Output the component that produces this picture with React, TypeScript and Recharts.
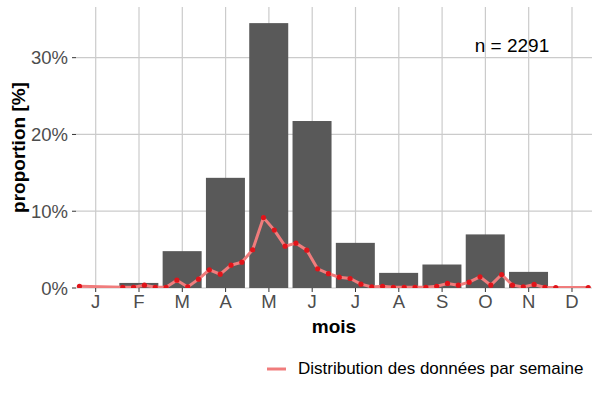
import React from 'react';
import {
  ComposedChart, Bar, Line, XAxis, YAxis, CartesianGrid, Legend, ReferenceDot,
} from 'recharts';

const monthLabels = ['J', 'F', 'M', 'A', 'M', 'J', 'J', 'A', 'S', 'O', 'N', 'D'];
const monthTicks = [1, 2, 3, 4, 5, 6, 7, 8, 9, 10, 11, 12];
const yTicks = [0, 10, 20, 30];

// monthly proportion (%) — bars
const monthlyShare: (number | null)[] = [
  null, 0.66, 4.8, 14.35, 34.5, 21.75, 5.88, 1.97, 3.06, 6.98, 2.1, null,
];

// weekly proportion (%) — four bins per month
const weeklyShare: (number | null)[] = [
  0.23, null, null, null, // Jan
  0.10, 0.10, 0.37, 0.10, // Feb
  0.10, 1.02, 0.14, 1.15, // Mar
  2.37, 1.80, 2.97, 3.36, // Apr
  4.98, 9.17, 7.54, 5.45, // May
  5.84, 4.93, 2.50, 1.86, // Jun
  1.41, 1.24, 0.50, 0.14, // Jul
  0.23, 0.10, 0.10, 0.10, // Aug
  0.10, 0.23, 0.59, 0.37, // Sep
  0.76, 1.45, 0.37, 1.76, // Oct
  0.37, 0.14, 0.46, 0.07, // Nov
  0.05, null, null, 0.05, // Dec
];

const sampleLabel = 'n = 2291';
const lineName = 'Distribution des données par semaine';

type Row = { x: number; month?: number | null; week?: number | null };

const rows: Row[] = [];
monthTicks.forEach((m, i) => {
  rows.push({ x: m, month: monthlyShare[i] });
  for (let q = 0; q < 4; q++) {
    rows.push({ x: m - 0.375 + q * 0.25, week: weeklyShare[i * 4 + q] });
  }
});
rows.sort((a, b) => a.x - b.x);

const FONT = '"Liberation Sans", Arial, Helvetica, sans-serif';
const BAR_W = 39;
const BAR_FILL = '#595959';
const LINE_COLOR = '#F07C7C';
const DOT_COLOR = '#E0141A';
const GRID = '#CBCBCB';

const BarShape = (p: any) => {
  if (p.payload == null || p.payload.month == null || !(p.height > 0)) return <g />;
  const cx = p.x + p.width / 2;
  return <rect x={cx - BAR_W / 2} y={p.y} width={BAR_W} height={p.height} fill={BAR_FILL} />;
};

const YTitle = (props: any) => {
  const vb = props.viewBox || { x: 0, y: 0, height: 0 };
  const cx = vb.x + 18;
  const cy = vb.y + vb.height / 2;
  return (
    <text x={cx} y={cy} transform={`rotate(-90 ${cx} ${cy})`} textAnchor="middle"
      dominantBaseline="central" fontFamily={FONT} fontWeight="bold" fontSize={19} fill="#000">
      proportion [%]
    </text>
  );
};

const XTitle = (props: any) => {
  const vb = props.viewBox || { x: 0, y: 0, width: 0 };
  return (
    <text x={vb.x + vb.width / 2} y={vb.y + 38} textAnchor="middle" dominantBaseline="central"
      fontFamily={FONT} fontWeight="bold" fontSize={19} fill="#000">
      mois
    </text>
  );
};

const LegendContent = (props: any) => {
  const items = (props.payload || []).filter((e: any) => e.type !== 'none');
  return (
    <div style={{ display: 'flex', flexDirection: 'column' }}>
      {items.map((e: any) => (
        <div key={e.value} style={{ display: 'flex', alignItems: 'center', whiteSpace: 'nowrap' }}>
          <svg width={22} height={8} style={{ marginRight: 10 }}>
            <line x1={1} y1={4} x2={20} y2={4} stroke={LINE_COLOR} strokeWidth={3} />
          </svg>
          <span style={{ fontFamily: FONT, fontSize: 17, color: '#000' }}>{e.value}</span>
        </div>
      ))}
    </div>
  );
};

export default function App() {
  return (
    <div style={{ position: 'absolute', left: 0, top: 0, width: 600, height: 400, background: '#fff' }}>
      <ComposedChart width={600} height={400} data={rows}
        margin={{ top: 7, right: 8, bottom: 52, left: 0 }}>
        <CartesianGrid stroke={GRID} strokeWidth={1.2} syncWithTicks />
        <XAxis dataKey="x" type="number" domain={[0.545, 12.462]} ticks={monthTicks}
          allowDataOverflow interval={0}
          tickFormatter={(v: number) => monthLabels[v - 1] ?? ''}
          axisLine={false} tickLine={{ stroke: '#333', strokeWidth: 1 }} tickSize={4} tickMargin={3}
          tick={{ fill: '#4D4D4D', fontSize: 18.5, fontFamily: FONT }}
          height={60} label={<XTitle />} />
        <YAxis type="number" domain={[0, 36.6]} ticks={yTicks} allowDataOverflow
          tickFormatter={(v: number) => `${v}%`}
          axisLine={false} tickLine={{ stroke: '#333', strokeWidth: 1 }} tickSize={4} tickMargin={4}
          tick={{ fill: '#4D4D4D', fontSize: 18.5, fontFamily: FONT }}
          width={76} label={<YTitle />} />
        <Bar dataKey="month" shape={<BarShape />} legendType="none" isAnimationActive={false} />
        <Line dataKey="week" name={lineName} type="linear" stroke={LINE_COLOR} strokeWidth={3}
          connectNulls dot={{ r: 2.6, fill: DOT_COLOR, stroke: DOT_COLOR, strokeWidth: 0 }}
          activeDot={false} legendType="line" isAnimationActive={false} />
        <ReferenceDot x={10.614} y={31.65} r={0.01} fill="none" stroke="none"
          label={{ value: sampleLabel, position: 'center', fontSize: 19, fill: '#000', fontFamily: FONT }} />
        <Legend layout="horizontal" verticalAlign="middle" align="center" content={<LegendContent />}
          wrapperStyle={{ position: 'absolute', left: 266, top: 359, width: 'auto', height: 'auto' }} />
      </ComposedChart>
    </div>
  );
}
